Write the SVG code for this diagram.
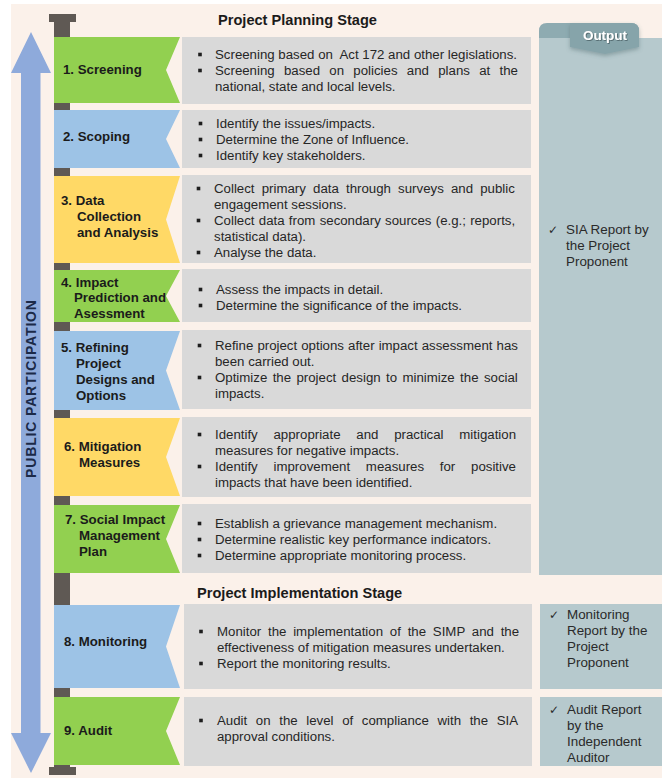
<svg xmlns="http://www.w3.org/2000/svg" width="662" height="778" viewBox="0 0 662 778">
  <defs>
    <style>
      .bg { fill: #FBF1EA; }
      .pole { fill: #5F5954; }
      .green { fill: #92D050; }
      .blue { fill: #9DC3E6; }
      .yellow { fill: #FFD966; }
      .box { fill: #D9D9D9; }
      .out { fill: #B6C9CD; }
      .lbl { font-family: "Liberation Sans", Arial, sans-serif; font-weight: bold; font-size: 13.25px; fill: #1B1B1B; }
      .txt { font-family: "Liberation Sans", Arial, sans-serif; font-size: 13.25px; fill: #262626; }
      .otxt { font-family: "Liberation Sans", Arial, sans-serif; font-size: 13.4px; fill: #2A2A2A; }
      .chk { font-family: "DejaVu Sans", sans-serif; font-size: 12px; fill: #2A2A2A; }
      .stage { font-family: "Liberation Sans", Arial, sans-serif; font-weight: bold; font-size: 14.6px; fill: #1B1B1B; }
      .pp { font-family: "Liberation Sans", Arial, sans-serif; font-weight: bold; font-size: 14px; fill: #1C2A48; }
    </style>
    <rect id="bullet" x="-1.8" y="-1.8" width="3.6" height="3.6" fill="#1E1E1E"/>
    <filter id="tabShadow" x="-20%" y="-20%" width="140%" height="160%">
      <feDropShadow dx="0" dy="2" stdDeviation="2" flood-color="#4E6B70" flood-opacity="0.45"/>
    </filter>
    <filter id="textShadow" x="-10%" y="-30%" width="120%" height="160%">
      <feDropShadow dx="0.8" dy="0.8" stdDeviation="0.4" flood-color="#3A4F54" flood-opacity="0.8"/>
    </filter>
  </defs>

  <!-- page background -->
  <rect x="0" y="0" width="662" height="778" fill="#FFFFFF"/>
  <rect class="bg" x="11" y="4" width="651" height="774"/>

  <!-- public participation arrow and the stage pole -->
  <g id="connectors">
    <polygon fill="#8EAADB" points="31,32 51,73 40.5,73 40.5,733 51,733 31,773 11,733 21,733 21,73 11,73"/>
    <text class="pp" transform="translate(35.5,389) rotate(-90)" text-anchor="middle" textLength="178" lengthAdjust="spacing">PUBLIC PARTICIPATION</text>
    <rect class="pole" x="54" y="20" width="16" height="750"/>
    <rect class="pole" x="49" y="14" width="27" height="8"/>
    <rect class="pole" x="49" y="767" width="27" height="8"/>
  </g>

  <!-- stage headings -->
  <text class="stage" x="218" y="25">Project Planning Stage</text>
  <text class="stage" x="197" y="598">Project Implementation Stage</text>

  <!-- output column -->
  <g id="output">
    <rect class="out" x="539" y="38" width="123" height="537"/>
    <path fill="#8EABB1" d="M539,38 V31 Q539,23 547,23 H631 Q639,23 639,31 V38 Z"/>
    <path fill="#86A4AA" filter="url(#tabShadow)" d="M570,23 H631 Q639,23 639,31 V47 L605,54 L570,47 Z"/>
    <text x="605" y="40" text-anchor="middle" filter="url(#textShadow)" font-family="Liberation Sans, Arial, sans-serif" font-weight="bold" font-size="13.5" fill="#FFFFFF">Output</text>
    <text class="chk" x="548" y="234">✓</text>
    <text class="otxt" x="566" y="234">SIA Report by</text>
    <text class="otxt" x="566" y="250">the Project</text>
    <text class="otxt" x="566" y="266">Proponent</text>
  </g>
  <g id="output-monitoring">
    <rect class="out" x="540" y="604" width="122" height="85"/>
    <text class="chk" x="549" y="619">✓</text>
    <text class="otxt" x="567" y="619">Monitoring</text>
    <text class="otxt" x="567" y="635">Report by the</text>
    <text class="otxt" x="567" y="651">Project</text>
    <text class="otxt" x="567" y="667">Proponent</text>
  </g>
  <g id="output-audit">
    <rect class="out" x="540" y="697" width="122" height="69"/>
    <text class="chk" x="549" y="714">✓</text>
    <text class="otxt" x="567" y="714">Audit Report</text>
    <text class="otxt" x="567" y="730">by the</text>
    <text class="otxt" x="567" y="746">Independent</text>
    <text class="otxt" x="567" y="762">Auditor</text>
  </g>

  <!-- 1. Screening -->
  <g id="step-1">
    <polygon class="green" points="54,37 180,37 166,70 180,103 54,103"/>
    <text class="lbl" x="63" y="74">1. Screening</text>
    <rect class="box" x="182" y="37" width="349" height="67"/>
    <use href="#bullet" x="200" y="54.5"/>
    <use href="#bullet" x="200" y="70.5"/>
    <text class="txt" x="215" y="59" xml:space="preserve">Screening based on  Act 172 and other legislations.</text>
    <text class="txt" x="215" y="75" word-spacing="5.6">Screening based on policies and plans at the</text>
    <text class="txt" x="215" y="91">national, state and local levels.</text>
  </g>

  <!-- 2. Scoping -->
  <g id="step-2">
    <polygon class="blue" points="54,110 180,110 166,139 180,168 54,168"/>
    <text class="lbl" x="63" y="141">2. Scoping</text>
    <rect class="box" x="182" y="110" width="349" height="58"/>
    <use href="#bullet" x="200.5" y="123.5"/>
    <use href="#bullet" x="200.5" y="139.5"/>
    <use href="#bullet" x="200.5" y="155.5"/>
    <text class="txt" x="216" y="128">Identify the issues/impacts.</text>
    <text class="txt" x="216" y="144">Determine the Zone of Influence.</text>
    <text class="txt" x="216" y="160">Identify key stakeholders.</text>
  </g>

  <!-- 3. Data Collection and Analysis -->
  <g id="step-3">
    <polygon class="yellow" points="54,176 180,176 166,219.5 180,263 54,263"/>
    <text class="lbl" x="61" y="205">3. Data</text>
    <text class="lbl" x="77" y="221">Collection</text>
    <text class="lbl" x="77" y="237">and Analysis</text>
    <rect class="box" x="182" y="175" width="349" height="88"/>
    <use href="#bullet" x="198.5" y="188.5"/>
    <use href="#bullet" x="198.5" y="220.5"/>
    <use href="#bullet" x="198.5" y="252.5"/>
    <text class="txt" x="214" y="193" word-spacing="3.5">Collect primary data through surveys and public</text>
    <text class="txt" x="214" y="209">engagement sessions.</text>
    <text class="txt" x="214" y="225" word-spacing="0.6">Collect data from secondary sources (e.g.; reports,</text>
    <text class="txt" x="214" y="241">statistical data).</text>
    <text class="txt" x="214" y="257">Analyse the data.</text>
  </g>

  <!-- 4. Impact Prediction and Assessment -->
  <g id="step-4">
    <polygon class="green" points="54,270 180,270 166,296 180,322 54,322"/>
    <text class="lbl" x="61" y="287">4. Impact</text>
    <text class="lbl" x="74" y="302">Prediction and</text>
    <text class="lbl" x="74" y="318">Asessment</text>
    <rect class="box" x="182" y="269" width="349" height="53"/>
    <use href="#bullet" x="200.5" y="289.5"/>
    <use href="#bullet" x="200.5" y="305.5"/>
    <text class="txt" x="216" y="294">Assess the impacts in detail.</text>
    <text class="txt" x="216" y="310">Determine the significance of the impacts.</text>
  </g>

  <!-- 5. Refining Project Designs and Options -->
  <g id="step-5">
    <polygon class="blue" points="54,331 180,331 166,370.5 180,410 54,410"/>
    <text class="lbl" x="61" y="352">5. Refining</text>
    <text class="lbl" x="76" y="368">Project</text>
    <text class="lbl" x="76" y="384">Designs and</text>
    <text class="lbl" x="76" y="400">Options</text>
    <rect class="box" x="182" y="330" width="349" height="79"/>
    <use href="#bullet" x="199.5" y="345.5"/>
    <use href="#bullet" x="199.5" y="377.5"/>
    <text class="txt" x="215" y="350" word-spacing="0.4">Refine project options after impact assessment has</text>
    <text class="txt" x="215" y="366">been carried out.</text>
    <text class="txt" x="215" y="382" word-spacing="1.7">Optimize the project design to minimize the social</text>
    <text class="txt" x="215" y="398">impacts.</text>
  </g>

  <!-- 6. Mitigation Measures -->
  <g id="step-6">
    <polygon class="yellow" points="54,418 180,418 166,457 180,496 54,496"/>
    <text class="lbl" x="64" y="451">6. Mitigation</text>
    <text class="lbl" x="79" y="467">Measures</text>
    <rect class="box" x="182" y="417" width="349" height="80"/>
    <use href="#bullet" x="199.5" y="434.5"/>
    <use href="#bullet" x="199.5" y="466.5"/>
    <text class="txt" x="215" y="439" word-spacing="12.1">Identify appropriate and practical mitigation</text>
    <text class="txt" x="215" y="455">measures for negative impacts.</text>
    <text class="txt" x="215" y="471" word-spacing="12.1">Identify improvement measures for positive</text>
    <text class="txt" x="215" y="487">impacts that have been identified.</text>
  </g>

  <!-- 7. Social Impact Management Plan -->
  <g id="step-7">
    <polygon class="green" points="54,505 180,505 166,539 180,573 54,573"/>
    <text class="lbl" x="65" y="524">7. Social Impact</text>
    <text class="lbl" x="79" y="540">Management</text>
    <text class="lbl" x="79" y="556">Plan</text>
    <rect class="box" x="182" y="504" width="349" height="69"/>
    <use href="#bullet" x="199.5" y="523.5"/>
    <use href="#bullet" x="199.5" y="539.5"/>
    <use href="#bullet" x="199.5" y="555.5"/>
    <text class="txt" x="215" y="528">Establish a grievance management mechanism.</text>
    <text class="txt" x="215" y="544">Determine realistic key performance indicators.</text>
    <text class="txt" x="215" y="560">Determine appropriate monitoring process.</text>
  </g>

  <!-- 8. Monitoring -->
  <g id="step-8">
    <polygon class="blue" points="54,605 180,605 166,646.5 180,688 54,688"/>
    <text class="lbl" x="64" y="646">8. Monitoring</text>
    <rect class="box" x="184" y="604" width="348" height="85"/>
    <use href="#bullet" x="201" y="631.5"/>
    <use href="#bullet" x="201" y="663.5"/>
    <text class="txt" x="217" y="636" word-spacing="3.1">Monitor the implementation of the SIMP and the</text>
    <text class="txt" x="217" y="652">effectiveness of mitigation measures undertaken.</text>
    <text class="txt" x="217" y="668">Report the monitoring results.</text>
  </g>

  <!-- 9. Audit -->
  <g id="step-9">
    <polygon class="green" points="54,697 180,697 166,731 180,765 54,765"/>
    <text class="lbl" x="64" y="735">9. Audit</text>
    <rect class="box" x="184" y="697" width="348" height="69"/>
    <use href="#bullet" x="201" y="720.5"/>
    <text class="txt" x="217" y="725" word-spacing="4.95">Audit on the level of compliance with the SIA</text>
    <text class="txt" x="217" y="741">approval conditions.</text>
  </g>
</svg>
